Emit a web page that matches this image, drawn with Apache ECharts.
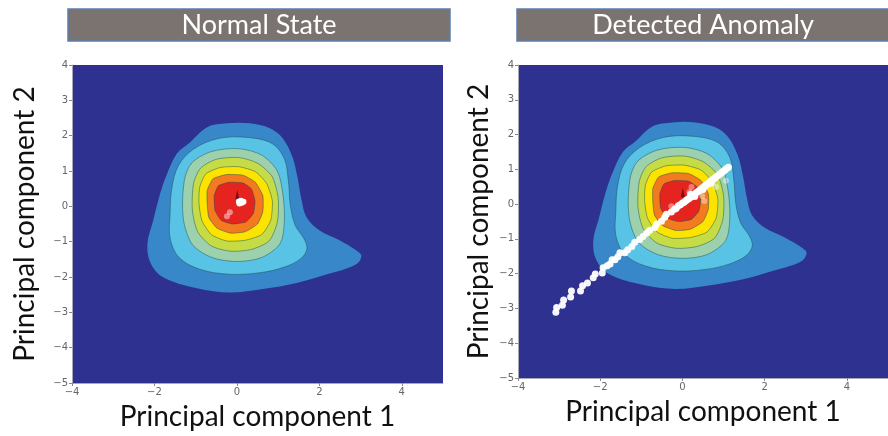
<!DOCTYPE html>
<html>
<head>
<meta charset="utf-8">
<script src="https://cdn.jsdelivr.net/npm/echarts@6/dist/echarts.min.js"></script>
<style>
  html, body { margin: 0; padding: 0; background: #ffffff; }
  #chart { width: 888px; height: 436px; }
</style>
</head>
<body>
<div id="chart"></div>
<script>
// Panel titles and axis names
const PANEL_TITLES = ['Normal State', 'Detected Anomaly'];
const X_NAME = 'Principal component 1';
const Y_NAME = 'Principal component 2';

// Tick values
const X_TICKS = [-4, -2, 0, 2, 4];
const Y_TICKS = [-5, -4, -3, -2, -1, 0, 1, 2, 3, 4];

// Density contour levels (outer to inner), boundary points in PC1/PC2 units
const CONTOUR_L1 = [[-1.14,1.81],[-0.72,2.24],[-0.24,2.35],[0.31,2.35],[0.80,2.21],[1.11,1.93],[1.35,1.39],[1.47,0.82],[1.57,0.17],[1.69,-0.31],[2.00,-0.68],[2.49,-0.96],[2.90,-1.25],[3.02,-1.40],[2.92,-1.62],[2.61,-1.78],[2.25,-1.90],[1.45,-2.17],[0.63,-2.34],[-0.17,-2.44],[-0.97,-2.32],[-1.79,-2.01],[-2.10,-1.59],[-2.17,-1.05],[-2.03,-0.40],[-1.86,0.37],[-1.69,0.93],[-1.45,1.50]];
const CONTOUR_L2 = [[-1.58,0.50],[-1.42,1.15],[-1.05,1.62],[-0.45,1.92],[0.25,1.95],[0.85,1.78],[1.15,1.35],[1.25,0.70],[1.30,0.00],[1.42,-0.55],[1.62,-0.90],[1.70,-1.20],[1.55,-1.48],[1.15,-1.72],[0.55,-1.88],[-0.20,-1.92],[-0.90,-1.78],[-1.40,-1.45],[-1.62,-0.90],[-1.62,-0.20]];
const CONTOUR_L3 = [[-1.28,0.70],[-1.10,1.22],[-0.62,1.55],[0.05,1.63],[0.60,1.45],[0.98,1.00],[1.12,0.30],[1.15,-0.45],[1.05,-1.05],[0.60,-1.45],[0.00,-1.56],[-0.60,-1.45],[-1.08,-1.08],[-1.30,-0.35]];
const CONTOUR_L4 = [[-1.05,0.65],[-0.88,1.08],[-0.50,1.33],[0.05,1.38],[0.50,1.22],[0.85,0.85],[1.00,0.25],[0.98,-0.45],[0.78,-0.98],[0.35,-1.22],[-0.15,-1.27],[-0.62,-1.12],[-0.95,-0.72],[-1.08,-0.10]];
const CONTOUR_L5 = [[-0.90,0.55],[-0.75,0.92],[-0.40,1.10],[0.05,1.12],[0.45,0.98],[0.72,0.65],[0.86,0.15],[0.82,-0.40],[0.60,-0.80],[0.20,-0.96],[-0.25,-0.98],[-0.62,-0.80],[-0.85,-0.40],[-0.92,0.10]];
const CONTOUR_L6 = [[-0.72,0.45],[-0.58,0.78],[-0.25,0.90],[0.15,0.88],[0.45,0.68],[0.63,0.30],[0.63,-0.15],[0.50,-0.50],[0.20,-0.72],[-0.15,-0.76],[-0.48,-0.62],[-0.68,-0.32],[-0.72,0.05]];
const CONTOUR_L7 = [[-0.55,0.30],[-0.45,0.58],[-0.20,0.68],[0.15,0.66],[0.35,0.50],[0.44,0.15],[0.40,-0.20],[0.22,-0.44],[-0.10,-0.50],[-0.38,-0.40],[-0.53,-0.12]];
const CONTOUR_PEAK = [[-0.04,0.20],[0.01,0.47],[0.06,0.20]];

const CONTOUR_LEVELS = [CONTOUR_L1, CONTOUR_L2, CONTOUR_L3, CONTOUR_L4, CONTOUR_L5, CONTOUR_L6, CONTOUR_L7, CONTOUR_PEAK];
const LEVEL_COLORS = ['#3787c9', '#58c3e4', '#9dd1ad', '#c6dc46', '#fde400', '#f47a20', '#e52420', '#7a0f10'];
const LEVEL_SMOOTH = [0.35, 0.35, 0.3, 0.25, 0.2, 0.15, 0.15, 0];

// Observations, normal state
const NORMAL_POINTS = [[0.06,0.08],[0.12,0.10],[0.10,0.16],[0.16,0.13],[0.05,0.14]];
const NORMAL_FAINT = [[-0.24,-0.28],[-0.17,-0.17]];

// Observations, anomaly drifting along the diagonal
const ANOMALY_POINTS = [[-3.08,-3.11],[-3.06,-2.97],[-2.92,-2.91],[-2.89,-2.76],[-2.72,-2.67],[-2.70,-2.50],[-2.48,-2.50],[-2.43,-2.35],[-2.31,-2.27],[-2.17,-2.12],[-2.12,-2.01],[-1.95,-1.98],[-1.93,-1.83],[-1.83,-1.77],[-1.76,-1.72],[-1.71,-1.60],[-1.64,-1.60],[-1.57,-1.51],[-1.52,-1.40],[-1.40,-1.40],[-1.33,-1.31],[-1.23,-1.22],[-1.16,-1.10],[-1.04,-1.02],[-0.96,-0.93],[-0.87,-0.84],[-0.80,-0.76],[-0.67,-0.67],[-0.63,-0.58],[-0.51,-0.49],[-0.43,-0.38],[-0.39,-0.29],[-0.27,-0.23],[-0.19,-0.15],[-0.15,-0.12],[-0.10,-0.05],[-0.05,-0.02],[0.00,0.03],[0.04,0.05],[0.08,0.10],[0.12,0.13],[0.16,0.16],[0.20,0.20],[0.24,0.23],[0.28,0.27],[0.32,0.31],[0.36,0.35],[0.40,0.38],[0.44,0.42],[0.48,0.46],[0.52,0.50],[0.56,0.53],[0.60,0.57],[0.64,0.61],[0.68,0.65],[0.72,0.69],[0.76,0.72],[0.80,0.76],[0.84,0.80],[0.88,0.84],[0.92,0.87],[0.96,0.91],[1.00,0.95],[1.04,0.99],[1.08,1.03],[1.12,1.06],[0.30,0.22],[0.50,0.42],[0.70,0.60],[0.20,0.28]];
const ANOMALY_FAINT = [[0.22,0.49],[0.48,0.23],[0.53,0.09],[0.82,0.49],[1.06,0.67],[0.17,0.35],[-0.27,-0.06]];

const minus = v => String(v).replace('-', '\u2212');
const FONT = 'Lato';

const GRIDS = [
  { left: 72, top: 65, width: 371, height: 318 },
  { left: 518, top: 65, width: 370, height: 313 }
];

function xAxisCfg(gi) {
  return {
    type: 'value', gridIndex: gi, min: -4, max: 5, interval: 2,
    name: X_NAME, nameLocation: 'middle', nameGap: 20,
    nameTextStyle: { fontFamily: FONT, fontSize: 28, color: '#111' },
    axisLine: { show: true, onZero: false, lineStyle: { color: '#a8a8b8', width: 1 } },
    axisTick: { show: true, length: 3, customValues: X_TICKS, lineStyle: { color: '#888' } },
    axisLabel: { customValues: X_TICKS, color: '#666', fontSize: 10, margin: 4, fontFamily: 'DejaVu Sans', formatter: minus },
    splitLine: { show: false }
  };
}
function yAxisCfg(gi, gap) {
  return {
    type: 'value', gridIndex: gi, min: -5, max: 4, interval: 1,
    name: Y_NAME, nameLocation: 'middle', nameGap: gap, nameRotate: 90,
    nameTextStyle: { fontFamily: FONT, fontSize: 28, color: '#111' },
    axisLine: { show: true, onZero: false, lineStyle: { color: '#a8a8b8', width: 1 } },
    axisTick: { show: true, length: 3, customValues: Y_TICKS, lineStyle: { color: '#888' } },
    axisLabel: { customValues: Y_TICKS, color: '#666', fontSize: 10, margin: 4, fontFamily: 'DejaVu Sans', formatter: minus },
    splitLine: { show: false }
  };
}

function contourSeries(gi) {
  return {
    type: 'custom', xAxisIndex: gi, yAxisIndex: gi, clip: true, silent: true,
    data: CONTOUR_LEVELS.map((_, i) => [i, 0]),
    renderItem(params, api) {
      const lvl = api.value(0);
      const pts = CONTOUR_LEVELS[lvl].map(p => api.coord(p));
      return {
        type: 'polygon',
        shape: { points: pts, smooth: LEVEL_SMOOTH[lvl] },
        style: {
          fill: LEVEL_COLORS[lvl],
          stroke: lvl > 0 && lvl < 7 ? 'rgba(25,75,85,0.6)' : null,
          lineWidth: 0.8
        }
      };
    }
  };
}

function pointSeries(gi, data, opacity, size) {
  return {
    type: 'scatter', xAxisIndex: gi, yAxisIndex: gi, silent: true,
    data, symbolSize: size,
    itemStyle: { color: '#ffffff', opacity }
  };
}

function titleBox(cx, x, w, text) {
  return [
    { type: 'rect', shape: { x, y: 9, width: w, height: 32 },
      style: { fill: '#7a7370', stroke: '#5a7fae', lineWidth: 1.5 } },
    { type: 'text', x: cx, y: 25,
      style: { text, fill: '#ffffff', font: '27px ' + FONT, textAlign: 'center', textVerticalAlign: 'middle' } }
  ];
}

const chart = echarts.init(document.getElementById('chart'), null, { renderer: 'canvas' });
chart.setOption({
  animation: false,
  backgroundColor: '#ffffff',
  grid: GRIDS.map(g => Object.assign({ show: true, backgroundColor: '#2e3190', borderWidth: 0 }, g)),
  xAxis: [xAxisCfg(0), xAxisCfg(1)],
  yAxis: [yAxisCfg(0, 33), yAxisCfg(1, 25)],
  series: [
    contourSeries(0),
    pointSeries(0, NORMAL_FAINT, 0.45, 6),
    pointSeries(0, NORMAL_POINTS, 1, 6),
    contourSeries(1),
    pointSeries(1, ANOMALY_FAINT, 0.4, 6),
    pointSeries(1, ANOMALY_POINTS, 0.95, 7)
  ],
  graphic: [].concat(
    titleBox(259, 68, 382, PANEL_TITLES[0]),
    titleBox(703, 517, 372, PANEL_TITLES[1])
  )
});
</script>
</body>
</html>
